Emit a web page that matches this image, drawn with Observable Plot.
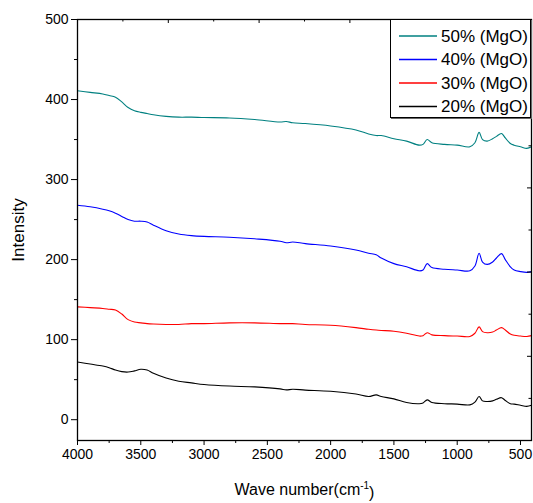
<!DOCTYPE html>
<html><head><meta charset="utf-8">
<script src="https://cdn.jsdelivr.net/npm/d3@7"></script>
<script src="https://cdn.jsdelivr.net/npm/@observablehq/plot@0.6"></script>
<style>
body{margin:0;background:#fff;font-family:"Liberation Sans",Arial,sans-serif;}
#wrap{position:relative;width:533px;height:503px;overflow:hidden;}
#legend{position:absolute;left:390px;top:19px;width:139px;height:97px;border:1.3px solid #000;background:#fff;box-shadow:1px 1px 0 #666;}
#legend svg{display:block;}
</style></head><body><div id="wrap"><div id="legend"></div></div>
<script>
const waveNumbers = [4000,3900,3800,3750,3700,3650,3600,3550,3500,3450,3400,3300,3200,3100,3000,2800,2600,2400,2350,2300,2200,2000,1800,1700,1640,1600,1500,1400,1300,1270,1237,1200,1100,1000,900,860,827,800,763,720,690,650,620,580,550,500,450,413];
const mgo50 = [411,409,407,405,403,397,390,386,384,382.5,381,379,378,378,377.5,377,375,372,372.5,371,370,367,362,357,355,355,351,348,343,344,350,346,344,343,341,346,359,350,348,351,354,357.5,352,345,343,341,339,341];
const mgo40 = [268,266,263,261,258,254,250,248,248,247,243,236,232,230,229,228,226,223,221,222,220,217,212,208,206,202,195,191,186,187,195,190,188,187,186,192,208,197,194,197,202,207.5,200,191,187,185,184,185];
const mgo30 = [141,140,139,138,137,132,125,122,121,120,119.5,119,119,120,120,121,121,120,120,120,119,118,115,113,112,111.5,110.5,108,104.5,105,108.7,106,105,104.5,104,108,116,110,108.7,109.5,112,115,112,107,105.4,104.5,104,105];
const mgo20 = [72,69.5,67,65,62,60,59.5,61,63,62,58,52,48,46,44,42,41,38.5,37.2,38,37,35.5,32,29,31,29,26,21.5,20,21,24.8,21.5,20,19.5,18.5,22,29,23.5,22.8,23.5,25.5,27.5,24,20,19.5,18,16.6,18];
const seriesNames = ["50% (MgO)","40% (MgO)","30% (MgO)","20% (MgO)"];
const seriesColors = ["#008080","#0000ff","#ff0000","#000000"];
const xTicks = [4000,3500,3000,2500,2000,1500,1000,500];
const xMinorTicks = [3750,3250,2750,2250,1750,1250,750];
const yTicks = [0,100,200,300,400,500];
const yMinorTicks = [50,150,250,350,450];
const xDomain = [4000,413];
const yDomain = [-26,500];

const seriesValues = [mgo50,mgo40,mgo30,mgo20];
const rows = seriesNames.flatMap((name,i)=>waveNumbers.map((w,j)=>({w, v: seriesValues[i][j], name})));
const div10 = (d)=>d3.range(1,10).map(i=>({v: d[0]+i*(d[1]-d[0])/10, major: i%2===0}));
const topT = div10(xDomain), rightT = div10([yDomain[1], yDomain[0]]);
const blank = ()=>"";
const plain = d=>String(d);

const plot = Plot.plot({
  width:533, height:503,
  marginLeft:77, marginRight:2, marginTop:19, marginBottom:63,
  style:{fontFamily:"'Liberation Sans', Arial, sans-serif", fontSize:"14px", color:"#000", background:"#fff"},
  x:{domain:xDomain},
  y:{domain:yDomain},
  color:{domain:seriesNames, range:seriesColors},
  marks:[
    Plot.line(rows,{x:"w", y:"v", z:"name", stroke:"name", strokeWidth:1.1, curve:"catmull-rom"}),
    Plot.frame({stroke:"#000", strokeWidth:1.3}),
    Plot.axisX({ticks:xTicks, tickSize:5, tickPadding:4, tickFormat:plain, fontSize:14, label:"Wave number(cm-1)", labelAnchor:"center", labelOffset:54, labelArrow:"none"}),
    Plot.axisX({ticks:xMinorTicks, tickSize:3, tickFormat:blank, label:null}),
    Plot.axisY({ticks:yTicks, tickSize:6, tickPadding:3, tickFormat:plain, fontSize:14, label:"Intensity", labelAnchor:"center", labelOffset:66, labelArrow:"none"}),
    Plot.axisY({ticks:yMinorTicks, tickSize:3, tickFormat:blank, label:null}),
    Plot.axisX({ticks:topT.filter(d=>d.major).map(d=>d.v), anchor:"bottom", frameAnchor:"top", tickSize:4, tickFormat:blank, label:null}),
    Plot.axisX({ticks:topT.filter(d=>!d.major).map(d=>d.v), anchor:"bottom", frameAnchor:"top", tickSize:2.5, tickFormat:blank, label:null}),
    Plot.axisY({ticks:rightT.filter(d=>d.major).map(d=>d.v), anchor:"left", frameAnchor:"right", tickSize:4, tickFormat:blank, label:null}),
    Plot.axisY({ticks:rightT.filter(d=>!d.major).map(d=>d.v), anchor:"left", frameAnchor:"right", tickSize:2.5, tickFormat:blank, label:null})
  ]
});
document.getElementById("wrap").prepend(plot);

// axis titles styling + superscript
const xl = plot.querySelector('g[aria-label="x-axis label"] text');
if (xl) { xl.setAttribute("font-size","16px"); xl.textContent="Wave number(cm"; const s=document.createElementNS("http://www.w3.org/2000/svg","tspan"); s.setAttribute("font-size","10px"); s.setAttribute("dy","-0.6em"); s.textContent="-1"; const c=document.createElementNS("http://www.w3.org/2000/svg","tspan"); c.setAttribute("dy","0.6em"); c.setAttribute("font-size","16px"); c.textContent=")"; xl.append(s,c); }
const yl = plot.querySelector('g[aria-label="y-axis label"] text');
if (yl) { yl.setAttribute("font-size","17px"); }

// legend
const lg = d3.select("#legend").append("svg").attr("width",139).attr("height",97);
seriesNames.forEach((n,i)=>{
  const y = 16 + i*23.5;
  lg.append("line").attr("x1",8).attr("x2",46).attr("y1",y).attr("y2",y).attr("stroke",seriesColors[i]).attr("stroke-width",1.3);
  lg.append("text").attr("x",50).attr("y",y).attr("dy","0.35em").attr("font-size","17px").attr("font-family","'Liberation Sans', Arial, sans-serif").text(n);
});
</script></body></html>
